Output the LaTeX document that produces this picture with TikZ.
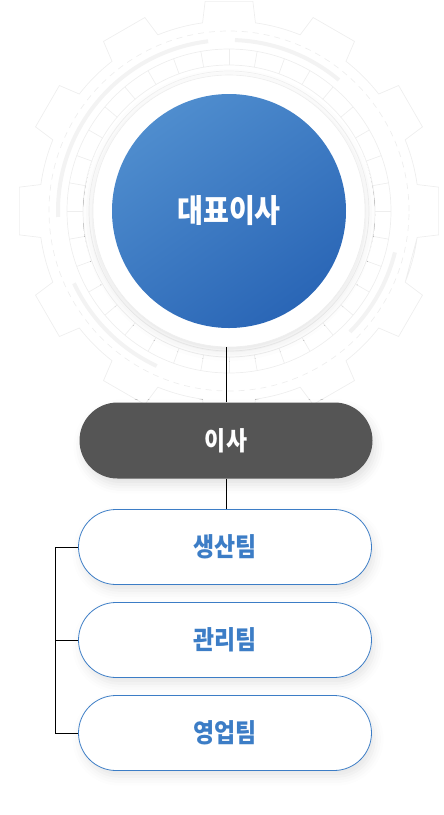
\documentclass[tikz,border=0pt]{standalone}
\usepackage{graphicx}
\usepackage{fontspec}
\newfontfamily\kr{Noto Sans CJK KR}
\usetikzlibrary{shadows.blur}
\definecolor{ceoblue}{HTML}{2A66B6}
\definecolor{ceolight}{HTML}{4F8DCE}
\definecolor{dirgray}{HTML}{555555}
\definecolor{teamblue}{HTML}{3C7DC6}
\definecolor{decogray}{HTML}{EEEEEE}
\newcommand{\orglab}[2]{\scalebox{0.88}[1]{\kr\fontsize{#1}{#1}\selectfont\bfseries #2}}

\begin{document}
\begin{tikzpicture}[x=1pt,y=-1pt,
    teambox/.style={rectangle,rounded corners=37.5pt,draw=teamblue,line width=0.8pt,fill=white,
                    minimum width=293pt,minimum height=75pt,text=teamblue,
                    blur shadow={shadow xshift=3pt,shadow yshift=-6pt,shadow opacity=10,shadow blur radius=9pt}},
    link/.style={-,draw=black,line width=0.9pt}]
 \useasboundingbox (0,0) rectangle (444,815);

 % faint gear behind the top circle
 \begin{scope}[shift={(229,211)},y=1pt,draw=decogray,line width=0.7pt]
  \draw (-22:190) \foreach \a in {0,30,...,330} {
        -- (\a-8:190) -- (\a-6.5:211) -- (\a+6.5:211) -- (\a+8:190)
        arc[start angle=\a+8,end angle=\a+22,radius=190] } -- cycle;
  \draw[dashed,dash pattern=on 6pt off 5pt] (0,0) circle (180);
  \draw[line width=4pt,draw=decogray!70] (97:171) arc[start angle=97,end angle=182,radius=171];
  \draw[line width=4pt,draw=decogray!70] (50:171) arc[start angle=50,end angle=88,radius=171];
  \draw[line width=4pt,draw=decogray!70] (-14:171) arc[start angle=-14,end angle=-45,radius=171];
  \draw[line width=4pt,draw=decogray!70] (205:171) arc[start angle=205,end angle=245,radius=171];
  \draw (0,0) circle (146) (0,0) circle (162);
  \foreach \a in {0,10,...,350} \draw (\a:146) -- (\a:162);
  \draw[draw=decogray!80] (0,0) circle (140);
 \end{scope}

 \draw (229,211) node[circle,fill=white,draw=decogray,line width=0.6pt,minimum size=272pt,
        blur shadow={shadow xshift=0pt,shadow yshift=-4pt,shadow opacity=10,shadow blur radius=10pt}] (RING) {};
 \draw (229,211) node[circle,minimum size=234pt,inner sep=0pt,top color=ceolight,bottom color=ceoblue,
        shading angle=35,text=white] (CEO)
              {\orglab{32}{대표이사}};

 \draw (226,440.5) node[rectangle,rounded corners=38pt,fill=dirgray,minimum width=293pt,minimum height=76pt,
        text=white,blur shadow={shadow xshift=3pt,shadow yshift=-6pt,shadow opacity=12,shadow blur radius=9pt}] (DIR)
              {\orglab{26}{이사}};

 \draw (225,547) node[teambox] (TPROD) {\orglab{26}{생산팀}};
 \draw (225,640) node[teambox] (TMGMT) {\orglab{26}{관리팀}};
 \draw (225,733) node[teambox] (TSALES) {\orglab{26}{영업팀}};

 \coordinate (BR) at (55.5,547);

 \draw[link] (DIR.north) -- (DIR.north |- RING.south);
 \draw[link] (DIR.south) -- (DIR.south |- TPROD.north);
 \draw[link] (TPROD.west) -- (BR) |- (TSALES.west);
 \draw[link] (TMGMT.west) -- (TMGMT.west -| BR);

\end{tikzpicture}
\end{document}
